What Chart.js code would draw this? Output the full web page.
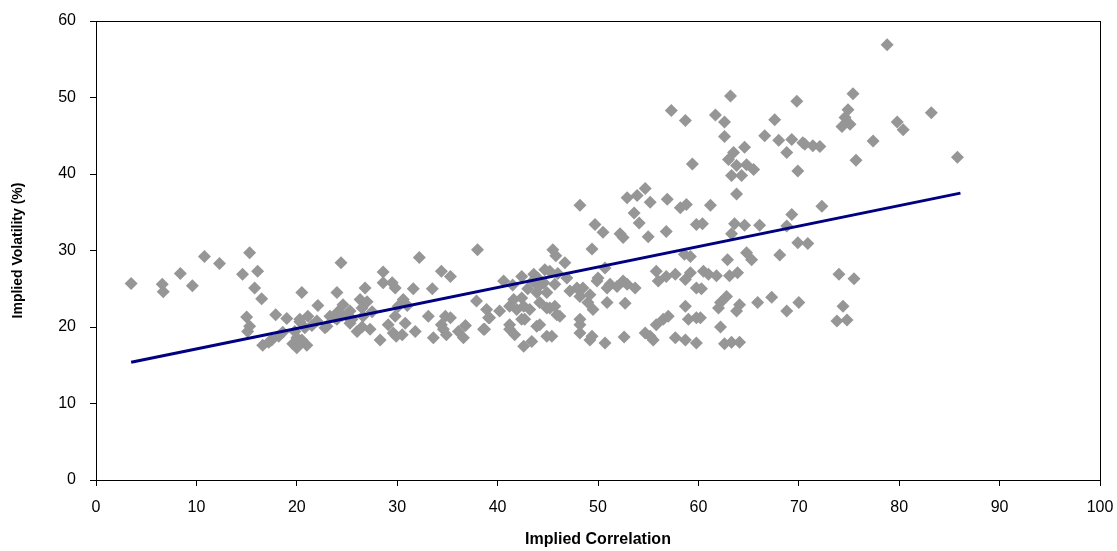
<!DOCTYPE html>
<html>
<head>
<meta charset="utf-8">
<script src="https://cdn.jsdelivr.net/npm/chart.js@4.4.1/dist/chart.umd.min.js"></script>
<style>
  html, body { margin: 0; padding: 0; background: #fff; }
  #wrap { width: 1117px; height: 551px; }
</style>
</head>
<body>
<div id="wrap"><canvas id="scatter"></canvas></div>
<script>
// implied correlation (x) and implied volatility (y)
const impliedCorrelation = [
  3.5, 6.6, 6.7, 8.4, 9.6, 10.8, 12.3, 14.6, 15.3, 16.1, 15.8, 16.5, 15.0, 15.3, 15.1, 17.9, 19.0, 16.6, 17.5, 17.2,
  18.2, 18.6, 19.6, 20.0, 20.4, 21.0, 20.5, 20.0, 20.8, 19.8, 20.3, 20.3, 21.1, 22.1, 20.5, 24.4, 24.0, 23.0, 23.8, 22.8,
  23.3, 24.1, 24.6, 25.0, 25.3, 25.3, 26.3, 26.6, 26.0, 27.3, 26.8, 28.6, 28.6, 29.5, 29.8, 28.3, 29.6, 29.9, 29.8, 29.1,
  30.1, 30.6, 31.6, 32.2, 33.5, 34.4, 35.3, 33.1, 34.8, 35.3, 31.8, 33.6, 34.6, 34.4, 34.9, 36.1, 36.8, 37.9, 38.9, 38.0,
  38.6, 36.6, 39.1, 40.2, 41.2, 40.6, 42.4, 43.6, 44.7, 41.6, 42.4, 41.9, 43.2, 44.2, 44.6, 44.9, 44.1, 43.9, 42.7, 43.9,
  44.9, 41.2, 41.7, 42.6, 43.4, 44.9, 41.2, 42.6, 45.2, 45.9, 39.2, 38.7, 42.4, 44.2, 45.4, 45.5, 45.8, 46.7, 46.9, 45.7,
  47.2, 47.9, 48.5, 48.2, 49.2, 49.0, 49.5, 50.9, 52.7, 49.9, 50.0, 50.9, 51.2, 51.9, 52.9, 52.5, 53.7, 45.7, 46.2, 48.2,
  48.2, 48.2, 49.4, 49.2, 50.7, 52.6, 54.7, 55.2, 55.5, 55.8, 56.5, 57.0, 57.7, 58.7, 58.7, 59.0, 59.8, 59.8, 48.2, 49.7,
  50.5, 52.2, 52.5, 49.4, 50.7, 52.9, 53.9, 54.7, 55.2, 53.6, 54.1, 55.0, 56.8, 56.9, 58.2, 58.8, 59.8, 60.4, 55.8, 56.8,
  57.7, 58.7, 59.2, 59.8, 56.0, 61.2, 60.5, 61.0, 61.8, 63.1, 63.9, 60.3, 62.8, 62.2, 62.0, 64.1, 63.8, 65.9, 67.3, 68.8,
  70.0, 60.2, 62.2, 62.6, 63.3, 64.1, 62.9, 63.3, 63.6, 64.6, 66.1, 68.8, 69.3, 72.3, 64.8, 65.3, 68.1, 69.9, 70.9, 74.0,
  75.5, 74.4, 73.8, 74.8, 58.6, 59.2, 63.8, 63.2, 69.8, 57.3, 58.7, 61.7, 62.6, 67.6, 62.6, 66.6, 68.0, 69.3, 70.4, 71.4,
  68.8, 64.6, 63.5, 63.0, 63.8, 64.8, 65.5, 64.3, 63.3, 59.4, 69.9, 75.4, 74.9, 74.6, 74.3, 75.1, 83.2, 79.8, 80.4, 77.4,
  70.6, 72.1, 75.7, 85.8, 78.8, 21.5, 22.0, 24.0, 24.5, 25.5, 26.5, 27.5, 27.0, 26.5, 30.8, 31.0, 30.5, 43.5, 44.0, 45.2,
  46.0, 43.0, 41.5
];
const impliedVolatility = [
  25.7, 25.6, 24.6, 27.0, 25.4, 29.2, 28.3, 26.9, 29.7, 27.3, 25.1, 23.7, 21.3, 20.1, 19.4, 21.6, 21.1, 17.6, 18.3, 18.0,
  18.8, 19.3, 17.8, 17.3, 18.0, 17.6, 18.3, 18.6, 19.9, 19.4, 20.7, 21.0, 21.4, 22.8, 24.5, 28.4, 24.5, 20.1, 21.2, 19.9,
  21.4, 22.0, 22.9, 21.4, 22.1, 20.5, 23.6, 21.4, 19.4, 19.7, 25.1, 27.2, 25.8, 25.8, 25.1, 18.3, 19.2, 18.8, 21.4, 20.3,
  22.7, 23.6, 25.0, 29.1, 25.0, 27.3, 26.6, 21.4, 21.4, 21.2, 19.4, 18.6, 19.7, 20.3, 19.0, 19.4, 20.2, 23.4, 22.3, 30.1,
  19.7, 18.6, 21.2, 22.1, 20.3, 26.0, 26.6, 26.9, 27.5, 23.6, 23.8, 22.3, 22.3, 23.2, 25.8, 24.5, 25.3, 24.5, 21.0, 20.1,
  22.5, 19.7, 19.0, 17.5, 18.1, 18.8, 22.7, 22.7, 22.5, 21.6, 21.2, 19.7, 21.0, 20.3, 18.8, 30.1, 29.3, 28.4, 26.4, 25.6,
  24.7, 25.1, 25.1, 24.0, 24.2, 23.2, 22.3, 23.2, 23.1, 26.0, 26.4, 25.1, 25.6, 25.3, 25.6, 26.0, 25.1, 22.7, 21.4, 21.0,
  20.3, 19.2, 18.8, 18.3, 17.9, 18.7, 19.2, 18.8, 18.3, 20.3, 21.0, 21.4, 18.6, 18.3, 22.7, 21.0, 21.2, 17.9, 35.9, 33.4,
  32.4, 32.2, 31.7, 30.2, 27.7, 36.9, 37.2, 38.1, 36.3, 34.9, 33.6, 31.8, 32.5, 36.7, 35.6, 36.0, 33.4, 33.5, 27.3, 26.6,
  26.9, 26.2, 27.1, 25.1, 26.0, 35.9, 27.3, 26.9, 26.7, 26.7, 27.1, 25.0, 24.0, 23.2, 22.5, 22.9, 22.1, 23.2, 23.9, 22.1,
  23.2, 21.2, 20.0, 17.8, 18.0, 18.0, 28.8, 32.2, 33.5, 33.3, 33.3, 33.2, 34.7, 35.8, 29.7, 28.8, 29.4, 31.0, 30.9, 26.9,
  26.3, 22.7, 20.8, 20.9, 29.5, 29.2, 37.4, 50.2, 49.5, 48.3, 47.0, 47.7, 46.8, 47.1, 44.9, 45.0, 44.4, 44.5, 44.1, 43.7,
  42.8, 43.5, 42.8, 41.9, 41.1, 41.2, 40.6, 39.8, 39.8, 41.3, 40.4, 50.5, 48.4, 47.4, 46.2, 46.5, 48.0, 46.8, 45.8, 44.3,
  43.9, 43.6, 41.8, 42.2, 56.9, 20.2, 20.8, 21.0, 21.5, 21.0, 22.5, 22.0, 23.3, 20.0, 20.5, 22.8, 19.0, 26.0, 26.4, 27.3,
  27.0, 25.0, 25.5
];

// fitted trend line end points
const fitCorrelation = [3.5, 86.1];
const fitVolatility = [15.4, 37.5];

const xTicks = [0, 10, 20, 30, 40, 50, 60, 70, 80, 90, 100];
const yTicks = [0, 10, 20, 30, 40, 50, 60];

const points = impliedCorrelation.map((x, i) => ({ x: x, y: impliedVolatility[i] }));
const trend = fitCorrelation.map((x, i) => ({ x: x, y: fitVolatility[i] }));

const frame = {
  id: "frame",
  afterDraw(chart) {
    const { ctx, chartArea } = chart;
    ctx.save();
    ctx.strokeStyle = "#000";
    ctx.lineWidth = 1;
    ctx.strokeRect(
      Math.round(chartArea.left) + 0.5,
      Math.round(chartArea.top) + 0.5,
      Math.round(chartArea.right - chartArea.left),
      Math.round(chartArea.bottom - chartArea.top)
    );
    ctx.restore();
  },
};

new Chart(document.getElementById("scatter"), {
  type: "scatter",
  data: {
    datasets: [
      {
        label: "Trend",
        data: trend,
        showLine: true,
        borderColor: "#000080",
        borderWidth: 3,
        pointRadius: 0,
        order: 0,
      },
      {
        label: "Implied Volatility",
        data: points,
        pointStyle: "rectRot",
        pointRadius: 6.5,
        pointBackgroundColor: "#969696",
        pointBorderWidth: 0,
        pointBorderColor: "#969696",
        order: 1,
      },
    ],
  },
  options: {
    responsive: true,
    maintainAspectRatio: false,
    animation: false,
    layout: { padding: { top: 21, right: 17, left: 0, bottom: 0 } },
    plugins: {
      legend: { display: false },
      tooltip: { enabled: false },
    },
    scales: {
      x: {
        type: "linear",
        min: 0,
        max: 100,
        afterBuildTicks: (scale) => {
          scale.ticks = xTicks.map((v) => ({ value: v }));
        },
        afterFit: (scale) => {
          scale.height = 71;
          scale.paddingLeft = 0;
          scale.paddingRight = 0;
        },
        ticks: {
          color: "#000",
          font: { family: "Liberation Sans", size: 16 },
          padding: 12,
          maxRotation: 0,
        },
        grid: {
          drawOnChartArea: false,
          drawTicks: true,
          tickLength: 6,
          color: "#000",
        },
        border: { color: "#000" },
        title: {
          display: true,
          text: "Implied Correlation",
          color: "#000",
          font: { family: "Liberation Sans", size: 16, weight: "bold" },
          padding: { top: 6, bottom: 2 },
        },
      },
      y: {
        type: "linear",
        min: 0,
        max: 60,
        afterBuildTicks: (scale) => {
          scale.ticks = yTicks.map((v) => ({ value: v }));
        },
        afterFit: (scale) => {
          scale.width = 96;
          scale.paddingTop = 0;
          scale.paddingBottom = 0;
        },
        ticks: {
          color: "#000",
          font: { family: "Liberation Sans", size: 16 },
          padding: 14,
        },
        grid: {
          drawOnChartArea: false,
          drawTicks: true,
          tickLength: 6,
          color: "#000",
        },
        border: { color: "#000" },
        title: {
          display: true,
          text: "Implied Volatility (%)",
          color: "#000",
          font: { family: "Liberation Sans", size: 14, weight: "bold" },
          padding: { top: 10, bottom: 4 },
        },
      },
    },
  },
  plugins: [frame],
});
</script>
</body>
</html>
